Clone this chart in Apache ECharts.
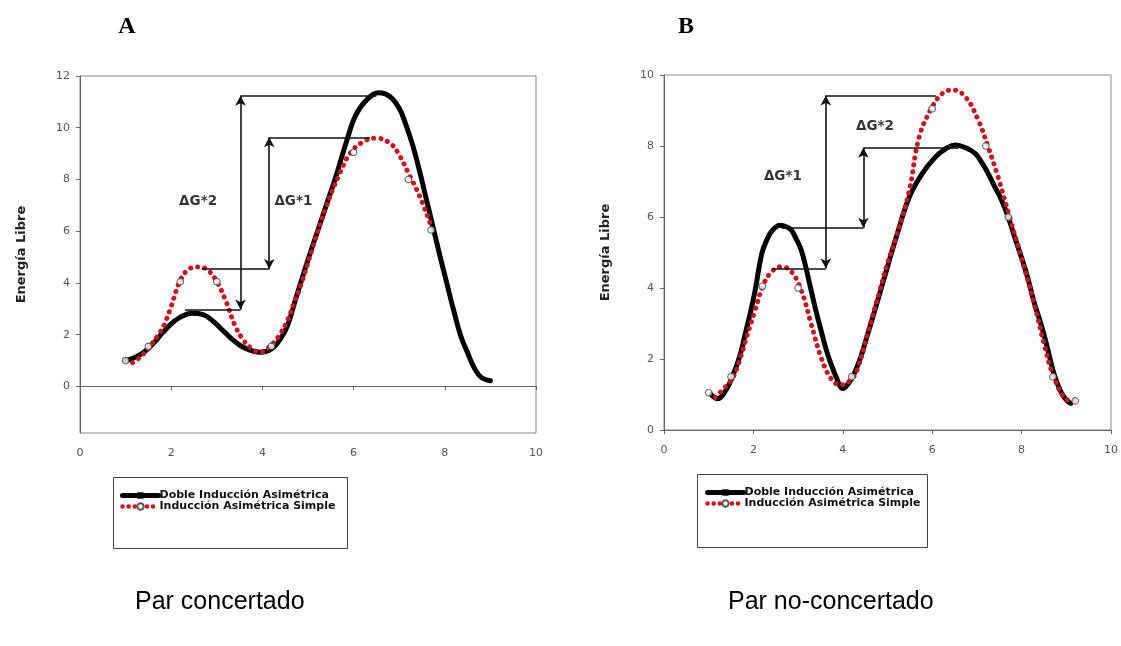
<!DOCTYPE html>
<html><head><meta charset="utf-8">
<script src="https://cdn.jsdelivr.net/npm/echarts@6/dist/echarts.min.js"></script>
<style>html,body{margin:0;padding:0;background:#fff}#c{width:1121px;height:646px}</style>
</head><body><div id="c"></div>
<script>
// ---------- data ----------
const seriesNames = ['Doble Inducción Asimétrica', 'Inducción Asimétrica Simple'];
const panelTitles = ['A', 'B'];
const captions = ['Par concertado', 'Par no-concertado'];
const yAxisName = 'Energía Libre';
const xTicks = [0, 2, 4, 6, 8, 10];
const yTicksA = [0, 2, 4, 6, 8, 10, 12];
const yTicksB = [0, 2, 4, 6, 8, 10];

// Panel A – Doble Inducción Asimétrica (black)
const dobleA = [[1.0,1.0],[1.2,1.12],[1.4,1.32],[1.6,1.65],[1.8,2.05],[2.0,2.42],[2.2,2.68],[2.45,2.83],[2.7,2.78],[2.9,2.55],[3.1,2.22],[3.3,1.88],[3.5,1.6],[3.7,1.42],[3.95,1.32],[4.2,1.45],[4.4,1.85],[4.55,2.35],[4.75,3.5],[5.0,4.9],[5.2,5.95],[5.4,7.0],[5.6,8.05],[5.85,9.5],[6.05,10.5],[6.3,11.1],[6.55,11.35],[6.8,11.2],[7.0,10.75],[7.15,10.1],[7.3,9.3],[7.45,8.3],[7.6,7.2],[7.75,6.1],[7.9,5.0],[8.05,3.95],[8.2,2.9],[8.35,1.95],[8.5,1.3],[8.65,0.7],[8.8,0.35],[9.0,0.22]];
// Panel A – Inducción Asimétrica Simple (red dotted)
const simpleA = [[1.15,0.92],[1.3,1.1],[1.5,1.48],[1.7,1.95],[1.85,2.4],[2.0,3.1],[2.2,4.1],[2.4,4.55],[2.6,4.62],[2.8,4.5],[3.0,4.05],[3.2,3.3],[3.4,2.35],[3.6,1.75],[3.8,1.42],[3.95,1.32],[4.1,1.45],[4.25,1.7],[4.4,2.05],[4.55,2.55],[4.7,3.25],[4.85,3.95],[5.1,5.35],[5.4,6.95],[5.7,8.25],[5.92,9.0],[6.2,9.45],[6.5,9.6],[6.8,9.4],[7.0,8.95],[7.2,8.25],[7.45,7.35],[7.7,6.2]];
const circlesAX = [1.0, 1.5, 2.2, 3.0, 4.2, 6.0, 7.2, 7.7];
const circlesAY = [1.0, 1.55, 4.05, 4.05, 1.55, 9.05, 8.0, 6.05];

// Panel B – Doble Inducción Asimétrica (black)
const dobleB = [[1.05,1.0],[1.2,0.88],[1.35,1.05],[1.53,1.5],[1.7,2.1],[1.82,2.72],[1.95,3.4],[2.04,3.94],[2.19,4.98],[2.3,5.35],[2.41,5.6],[2.6,5.77],[2.75,5.72],[2.85,5.63],[2.95,5.4],[3.07,5.07],[3.18,4.55],[3.29,3.94],[3.4,3.35],[3.51,2.82],[3.62,2.3],[3.73,1.88],[3.85,1.5],[4.0,1.17],[4.12,1.3],[4.24,1.55],[4.4,2.05],[4.54,2.63],[4.7,3.3],[4.85,3.95],[5.0,4.6],[5.2,5.45],[5.49,6.57],[5.78,7.23],[6.08,7.7],[6.3,7.92],[6.52,8.03],[6.75,7.95],[6.96,7.79],[7.1,7.55],[7.25,7.23],[7.4,6.85],[7.55,6.48],[7.7,6.0],[7.84,5.45],[8.0,4.85],[8.13,4.32],[8.28,3.6],[8.43,3.0],[8.58,2.3],[8.72,1.6],[8.87,1.1],[9.0,0.85],[9.1,0.75]];
// Panel B – Inducción Asimétrica Simple (red dotted)
const simpleB = [[1.15,0.92],[1.3,1.12],[1.53,1.45],[1.7,2.0],[1.82,2.5],[2.04,3.38],[2.22,4.08],[2.41,4.46],[2.63,4.6],[2.85,4.46],[3.07,3.94],[3.29,3.0],[3.51,2.06],[3.73,1.46],[3.95,1.27],[4.17,1.4],[4.32,1.69],[4.55,2.7],[4.83,3.94],[5.0,4.7],[5.2,5.45],[5.49,6.76],[5.71,8.26],[6.0,9.1],[6.23,9.48],[6.45,9.58],[6.74,9.39],[7.03,8.73],[7.25,7.98],[7.47,7.14],[7.73,6.01],[7.99,4.88],[8.28,3.57],[8.5,2.44],[8.72,1.5],[9.02,0.85],[9.24,0.8]];
const circlesBX = [1.0, 1.5, 2.2, 3.0, 4.2, 6.0, 7.2, 7.7, 8.7, 9.2];
const circlesBY = [1.05, 1.5, 4.05, 4.0, 1.5, 9.05, 8.0, 6.0, 1.5, 0.82];

// Annotations (data coordinates): level lines and double arrows
const levelsA = [[2.3,2.97,3.52,2.97],[3.52,11.24,6.5,11.24],[2.67,4.54,4.15,4.54],[4.15,9.63,6.36,9.63]];
const arrowsA = [[3.52,2.97,3.52,11.24],[4.15,4.54,4.15,9.63]];
const labelsA = ['ΔG*2', 'ΔG*1'];
const labelPosA = [[2.59,7.16],[4.68,7.16]];
const levelsB = [[2.41,4.55,3.62,4.55],[3.62,9.42,6.08,9.42],[2.63,5.7,4.46,5.7],[4.46,7.95,6.59,7.95]];
const arrowsB = [[3.62,4.55,3.62,9.42],[4.46,5.7,4.46,7.95]];
const labelsB = ['ΔG*1', 'ΔG*2'];
const labelPosB = [[2.66,7.14],[4.72,8.54]];

// ---------- chart ----------
const FONT = 'DejaVu Sans';
const RED = '#cc1122';
const chart = echarts.init(document.getElementById('c'), null, {renderer: 'canvas'});

function xAxis(gi) {
  return {
    type: 'value', gridIndex: gi, min: 0, max: 10, interval: 2,
    axisLine: {show: true, lineStyle: {color: '#666', width: 1}},
    axisTick: {show: true, inside: false, length: 4, lineStyle: {color: '#666'}},
    axisLabel: {color: '#555', fontFamily: FONT, fontSize: 11, margin: 15},
    splitLine: {show: false}
  };
}
function yAxis(gi, min, max, ticks) {
  return {
    type: 'value', gridIndex: gi, min: min, max: max,
    name: yAxisName, nameLocation: 'middle', nameRotate: 90, nameGap: 52,
    nameTextStyle: {fontFamily: FONT, fontWeight: 'bold', fontSize: 13, color: '#222'},
    axisLine: {show: true, onZero: false, lineStyle: {color: '#666', width: 1}},
    axisTick: {show: true, inside: false, length: 4, lineStyle: {color: '#666'}, customValues: ticks},
    axisLabel: {color: '#555', fontFamily: FONT, fontSize: 11, margin: 10, customValues: ticks},
    splitLine: {show: false}
  };
}
function blackSeries(gi, data) {
  return {
    name: seriesNames[0], type: 'line', xAxisIndex: gi, yAxisIndex: gi,
    data: data, smooth: 0.4, showSymbol: false, symbol: 'rect', symbolSize: 6,
    itemStyle: {color: '#000'},
    lineStyle: {color: '#000', width: 5, cap: 'round', join: 'round'},
    z: 2, silent: true
  };
}
function redSeries(gi, data) {
  return {
    name: seriesNames[1], type: 'line', xAxisIndex: gi, yAxisIndex: gi,
    data: data, smooth: 0.4, showSymbol: false, symbol: 'emptyCircle', symbolSize: 6,
    itemStyle: {color: '#555'},
    lineStyle: {color: RED, width: 5, type: [0.1, 7], cap: 'round'},
    z: 3, silent: true
  };
}
function circleSeries(gi, xs, ys) {
  return {
    name: seriesNames[1], type: 'scatter', xAxisIndex: gi, yAxisIndex: gi,
    data: xs.map((x, i) => [x, ys[i]]), symbol: 'circle', symbolSize: 6.5,
    itemStyle: {color: '#fff', borderColor: '#444', borderWidth: 1.2},
    z: 4, silent: true
  };
}
function annoSeries(gi, levels, arrows, labels, pos) {
  const seg = [];
  levels.forEach(l => seg.push([{coord: [l[0], l[1]], symbol: 'none'}, {coord: [l[2], l[3]], symbol: 'none'}]));
  arrows.forEach(a => seg.push([{coord: [a[0], a[1]], symbol: 'arrow'}, {coord: [a[2], a[3]], symbol: 'arrow'}]));
  return {
    name: 'anno' + gi, type: 'scatter', xAxisIndex: gi, yAxisIndex: gi,
    data: labels.map((t, i) => ({name: t, value: pos[i]})),
    symbolSize: 0, silent: true, z: 5,
    label: {show: true, position: 'inside', formatter: '{b}', fontFamily: FONT, fontWeight: 'bold', fontSize: 13.5, color: '#000'},
    markLine: {
      silent: true, animation: false, symbolSize: [8, 10],
      lineStyle: {color: '#111', width: 1.6, type: 'solid'},
      label: {show: false}, emphasis: {disabled: true},
      data: seg
    }
  };
}
function legend(left, top) {
  return {
    data: [
      {name: seriesNames[0], lineStyle: {width: 5, color: '#000'}},
      {name: seriesNames[1], lineStyle: {width: 4.5, color: RED, type: [0.1, 6], cap: 'round'}}
    ],
    orient: 'vertical', left: left, top: top,
    itemWidth: 36, itemHeight: 8, itemGap: 0, padding: 0,
    selectedMode: false,
    textStyle: {fontFamily: FONT, fontWeight: 'bold', fontSize: 11, color: '#111', lineHeight: 10, padding: [0, 0, 0, -4]}
  };
}

const option = {
  animation: false,
  backgroundColor: '#fff',
  grid: [
    {left: 80, right: 585, top: 76, bottom: 213, show: true, borderColor: '#888', borderWidth: 1, containLabel: false},
    {left: 664, right: 3, top: 75, bottom: 216, show: true, borderColor: '#888', borderWidth: 1, containLabel: false}
  ],
  xAxis: [xAxis(0), xAxis(1)],
  yAxis: [yAxis(0, -1.8, 12, yTicksA), yAxis(1, 0, 10, yTicksB)],
  legend: [legend(120, 490), legend(705, 487)],
  series: [
    blackSeries(0, dobleA), redSeries(0, simpleA), circleSeries(0, circlesAX, circlesAY), annoSeries(0, levelsA, arrowsA, labelsA, labelPosA),
    blackSeries(1, dobleB), redSeries(1, simpleB), circleSeries(1, circlesBX, circlesBY), annoSeries(1, levelsB, arrowsB, labelsB, labelPosB)
  ],
  graphic: [
    {type: 'rect', shape: {x: 113.5, y: 477.5, width: 234, height: 71}, style: {fill: 'none', stroke: '#444', lineWidth: 1}, z: -1},
    {type: 'rect', shape: {x: 697.5, y: 474.5, width: 230, height: 73}, style: {fill: 'none', stroke: '#444', lineWidth: 1}, z: -1},
    {type: 'text', x: 127, y: 27, style: {text: panelTitles[0], fontFamily: 'Liberation Serif', fontWeight: 'bold', fontSize: 24, fill: '#000', textAlign: 'center', textVerticalAlign: 'middle'}},
    {type: 'text', x: 686, y: 27, style: {text: panelTitles[1], fontFamily: 'Liberation Serif', fontWeight: 'bold', fontSize: 24, fill: '#000', textAlign: 'center', textVerticalAlign: 'middle'}},
    {type: 'text', x: 135, y: 602, style: {text: captions[0], fontFamily: 'Liberation Sans', fontSize: 25, fill: '#000', textAlign: 'left', textVerticalAlign: 'middle'}},
    {type: 'text', x: 728, y: 602, style: {text: captions[1], fontFamily: 'Liberation Sans', fontSize: 25, fill: '#000', textAlign: 'left', textVerticalAlign: 'middle'}}
  ]
};
chart.setOption(option);
</script>
</body></html>
